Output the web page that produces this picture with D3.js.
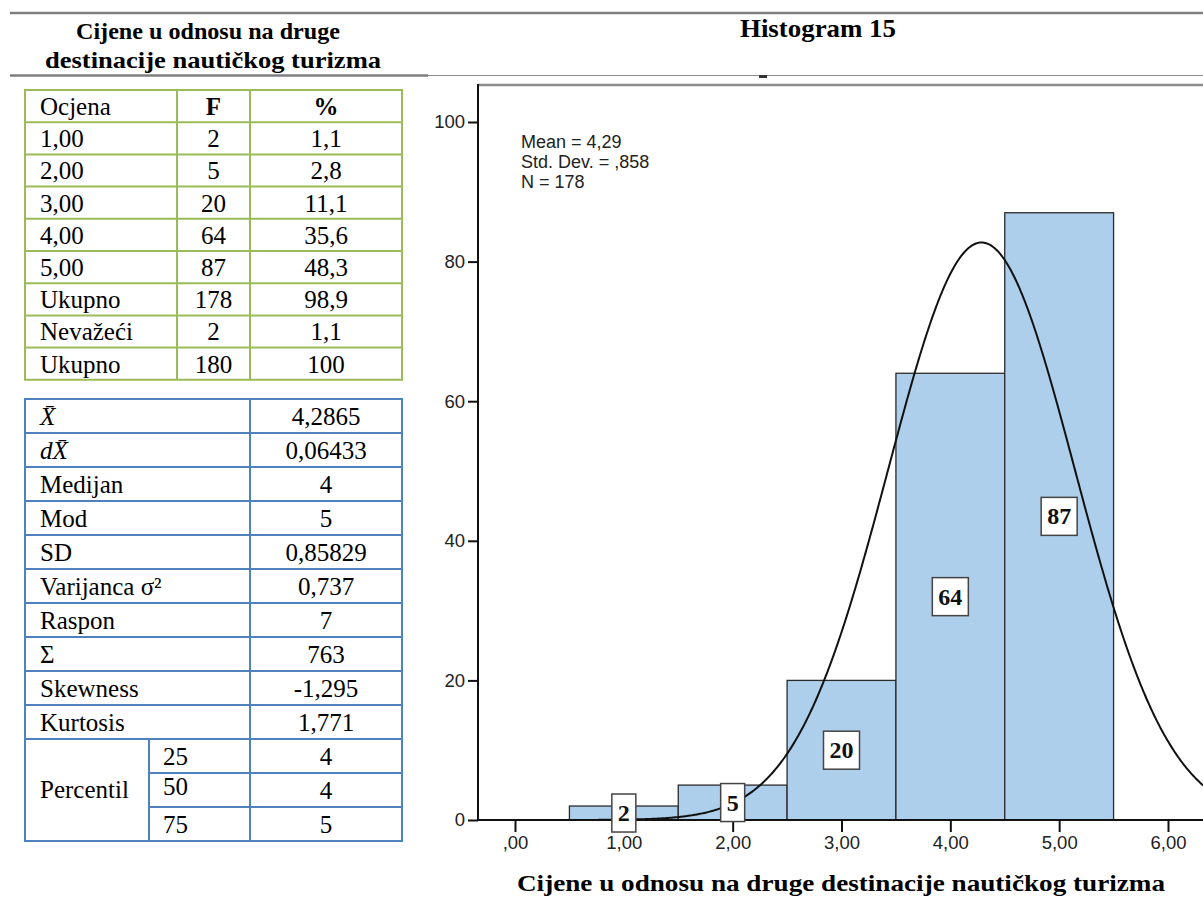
<!DOCTYPE html>
<html>
<head>
<meta charset="utf-8">
<script src="https://cdn.jsdelivr.net/npm/d3@7"></script>
<style>
  body { margin: 0; background: #fff; }
  svg { display: block; }
</style>
</head>
<body>
<script>
'use strict';

// frequency table
const freqHeader = ["Ocjena", "F", "%"];
const freqLabels = ["1,00", "2,00", "3,00", "4,00", "5,00", "Ukupno", "Nevažeći", "Ukupno"];
const freqCounts = ["2", "5", "20", "64", "87", "178", "2", "180"];
const freqPercents = ["1,1", "2,8", "11,1", "35,6", "48,3", "98,9", "1,1", "100"];

// descriptive statistics table
const statNames = ["X\u0304", "dX\u0304", "Medijan", "Mod", "SD", "Varijanca σ²", "Raspon", "Σ", "Skewness", "Kurtosis"];
const statValues = ["4,2865", "0,06433", "4", "5", "0,85829", "0,737", "7", "763", "-1,295", "1,771"];
const percentileKeys = ["25", "50", "75"];
const percentileValues = ["4", "4", "5"];

// histogram
const binCenters = [1, 2, 3, 4, 5];
const binCounts = [2, 5, 20, 64, 87];
const yTicks = [0, 20, 40, 60, 80, 100];
const xTicks = [0, 1, 2, 3, 4, 5, 6];
const xTickLabels = [",00", "1,00", "2,00", "3,00", "4,00", "5,00", "6,00"];
const fitMean = 4.2865;
const fitSD = 0.85829;
const fitN = 178;
const legendLines = ["Mean = 4,29", "Std. Dev. = ,858", "N = 178"];

(function() {

  const serif = '"Liberation Serif", "Times New Roman", serif';
  const sans = '"Liberation Sans", Arial, sans-serif';
  const tableFont = '25px';

  let svg = d3.select('body')
    .append('svg')
    .attr('width', 1203)
    .attr('height', 917);

  drawHeadings();
  drawFreqTable();
  drawStatTable();
  drawHistogram();

  // page lines and both headings
  function drawHeadings() {
    svg.append('line')
      .attr('x1', 10).attr('x2', 1203).attr('y1', 13).attr('y2', 13)
      .style('stroke', '#7f7f7f').style('stroke-width', 2.5);
    svg.append('line')
      .attr('x1', 10).attr('x2', 428).attr('y1', 75.5).attr('y2', 75.5)
      .style('stroke', '#7f7f7f').style('stroke-width', 2.5);
    svg.append('line')
      .attr('x1', 428).attr('x2', 1203).attr('y1', 75.5).attr('y2', 75.5)
      .style('stroke', '#8a8a8a').style('stroke-width', 1.2);
    // clipped remnant of the chart's own title
    svg.append('rect')
      .attr('x', 759).attr('y', 75).attr('width', 8).attr('height', 3)
      .style('fill', '#333');

    let left = svg.append('text')
      .attr('text-anchor', 'middle')
      .style('font-family', serif)
      .style('font-weight', 'bold')
      .style('font-size', '24px');
    left.append('tspan').attr('x', 208).attr('y', 39)
      .attr('textLength', 264).attr('lengthAdjust', 'spacingAndGlyphs')
      .text('Cijene u odnosu na druge');
    left.append('tspan').attr('x', 213).attr('y', 68)
      .attr('textLength', 336).attr('lengthAdjust', 'spacingAndGlyphs')
      .text('destinacije nautičkog turizma');

    svg.append('text')
      .attr('x', 818).attr('y', 37)
      .attr('text-anchor', 'middle')
      .attr('textLength', 156)
      .attr('lengthAdjust', 'spacingAndGlyphs')
      .style('font-family', serif)
      .style('font-weight', 'bold')
      .style('font-size', '25px')
      .text('Histogram 15');
  }

  // green bordered frequency table
  function drawFreqTable() {
    let cols = [25, 177, 250, 402];
    let top = 90, rowH = 32.2;
    let rows = [freqHeader].concat(freqLabels.map((d, i) => [d, freqCounts[i], freqPercents[i]]));
    let g = svg.append('g');

    rows.forEach((row, r) => {
      let y = top + r * rowH;
      row.forEach((cell, c) => {
        g.append('text')
          .attr('x', c === 0 ? 40 : (cols[c] + cols[c + 1]) / 2)
          .attr('y', y + 25)
          .attr('text-anchor', c === 0 ? 'start' : 'middle')
          .style('font-family', serif)
          .style('font-size', tableFont)
          .style('font-weight', r === 0 && c > 0 ? 'bold' : 'normal')
          .text(cell);
      });
    });

    let bottom = top + rows.length * rowH;
    d3.range(rows.length + 1).forEach((r) => {
      g.append('line')
        .attr('x1', cols[0] - 1).attr('x2', cols[3] + 1)
        .attr('y1', top + r * rowH).attr('y2', top + r * rowH)
        .style('stroke', '#9bbb59').style('stroke-width', 2);
    });
    cols.forEach((x) => {
      g.append('line')
        .attr('x1', x).attr('x2', x).attr('y1', top).attr('y2', bottom)
        .style('stroke', '#9bbb59').style('stroke-width', 2);
    });
  }

  // blue bordered statistics table
  function drawStatTable() {
    let cols = [25, 250, 402];
    let split = 149;
    let top = 399, rowH = 34;
    let g = svg.append('g');

    statNames.forEach((name, i) => {
      let y = top + i * rowH;
      let italic = i < 2;
      g.append('text')
        .attr('x', 40).attr('y', y + 26)
        .style('font-family', serif)
        .style('font-size', tableFont)
        .style('font-style', italic ? 'italic' : 'normal')
        .text(name);
      g.append('text')
        .attr('x', (cols[1] + cols[2]) / 2).attr('y', y + 26)
        .attr('text-anchor', 'middle')
        .style('font-family', serif)
        .style('font-size', tableFont)
        .text(statValues[i]);
    });

    let pTop = top + statNames.length * rowH;
    percentileKeys.forEach((k, i) => {
      let y = pTop + i * rowH;
      g.append('text')
        .attr('x', 163).attr('y', y + (i === 1 ? 22 : 26))
        .style('font-family', serif).style('font-size', tableFont)
        .text(k);
      g.append('text')
        .attr('x', (cols[1] + cols[2]) / 2).attr('y', y + 26)
        .attr('text-anchor', 'middle')
        .style('font-family', serif).style('font-size', tableFont)
        .text(percentileValues[i]);
    });
    g.append('text')
      .attr('x', 40).attr('y', pTop + 1.5 * rowH + 8)
      .style('font-family', serif).style('font-size', tableFont)
      .text('Percentil');

    let nRows = statNames.length + percentileKeys.length;
    let bottom = top + nRows * rowH;
    d3.range(nRows + 1).forEach((r) => {
      let y = top + r * rowH;
      let inPct = r > statNames.length && r < nRows;
      g.append('line')
        .attr('x1', inPct ? split : cols[0] - 1).attr('x2', cols[2] + 1)
        .attr('y1', y).attr('y2', y)
        .style('stroke', '#4f81bd').style('stroke-width', 2);
    });
    cols.forEach((x) => {
      g.append('line')
        .attr('x1', x).attr('x2', x).attr('y1', top).attr('y2', bottom)
        .style('stroke', '#4f81bd').style('stroke-width', 2);
    });
    g.append('line')
      .attr('x1', split).attr('x2', split).attr('y1', pTop).attr('y2', bottom)
      .style('stroke', '#4f81bd').style('stroke-width', 2);
  }

  // histogram with fitted normal curve
  function drawHistogram() {
    let plotLeft = 478, plotTop = 85, plotRight = 1203;

    let xScale = d3.scaleLinear().domain([0, 6]).range([515, 1168]);
    let yScale = d3.scaleLinear().domain([0, 100]).range([820, 122]);

    // frame top edge
    svg.append('line')
      .attr('x1', plotLeft).attr('x2', plotRight).attr('y1', plotTop).attr('y2', plotTop)
      .style('stroke', '#8c8c8c').style('stroke-width', 2.5);

    // bars
    svg.selectAll('.bar')
      .data(binCenters)
      .enter()
      .append('rect')
        .attr('class', 'bar')
        .attr('x', (d) => xScale(d - 0.5))
        .attr('width', (d) => xScale(d + 0.5) - xScale(d - 0.5))
        .attr('y', (d, i) => yScale(binCounts[i]))
        .attr('height', (d, i) => yScale(0) - yScale(binCounts[i]))
        .style('fill', '#aecfec')
        .style('stroke', '#2b2b2b')
        .style('stroke-width', 1.3);

    // normal curve scaled to counts (bin width 1)
    let xMin = xScale.invert(plotLeft), xMax = xScale.invert(plotRight);
    let curveX = d3.range(xMin, xMax + 0.01, 0.01);
    let density = (x) => fitN / (fitSD * Math.sqrt(2 * Math.PI)) *
      Math.exp(-0.5 * Math.pow((x - fitMean) / fitSD, 2));
    let line = d3.line()
      .x((d) => xScale(d))
      .y((d) => yScale(density(d)));
    svg.append('path')
      .datum(curveX)
      .attr('d', line)
      .style('fill', 'none')
      .style('stroke', '#111')
      .style('stroke-width', 2);

    // axes
    let yAxis = d3.axisLeft(yScale).tickValues(yTicks).tickSize(10).tickPadding(3);
    let yg = svg.append('g')
      .attr('transform', `translate(${plotLeft}, 0)`)
      .call(yAxis);
    yg.select('.domain').remove();
    yg.append('line')
      .attr('x1', 0).attr('x2', 0).attr('y1', plotTop - 1).attr('y2', yScale(0) + 1)
      .style('stroke', '#111').style('stroke-width', 2);

    let xAxis = d3.axisBottom(xScale).tickValues(xTicks)
      .tickFormat((d, i) => xTickLabels[i]).tickSize(12).tickPadding(4);
    let xg = svg.append('g')
      .attr('transform', `translate(0, ${yScale(0)})`)
      .call(xAxis);
    xg.select('.domain').remove();
    xg.append('line')
      .attr('x1', plotLeft).attr('x2', plotRight).attr('y1', 0).attr('y2', 0)
      .style('stroke', '#111').style('stroke-width', 2);

    [yg, xg].forEach((g) => {
      g.selectAll('.tick line').style('stroke', '#111').style('stroke-width', 2);
      g.selectAll('.tick text')
        .style('font-family', sans)
        .style('font-size', '18.5px')
        .style('fill', '#222');
    });

    // count labels in white boxes at half bar height
    let labels = svg.selectAll('.count')
      .data(binCenters)
      .enter()
      .append('g')
        .attr('class', 'count')
        .attr('transform', (d, i) => `translate(${xScale(d)}, ${yScale(binCounts[i] / 2)})`);
    labels.append('rect');
    labels.append('text')
      .attr('text-anchor', 'middle')
      .attr('y', 8)
      .style('font-family', serif)
      .style('font-weight', 'bold')
      .style('font-size', '24px')
      .style('fill', '#111')
      .text((d, i) => binCounts[i]);
    labels.each(function() {
      let g = d3.select(this);
      let w = g.select('text').node().getComputedTextLength() + 12;
      g.select('rect')
        .attr('x', -w / 2).attr('y', -19)
        .attr('width', w).attr('height', 38)
        .style('fill', '#fff')
        .style('stroke', '#444')
        .style('stroke-width', 1.5);
    });

    // legend
    let legend = svg.append('text')
      .style('font-family', sans)
      .style('font-size', '18px')
      .style('fill', '#222');
    legendLines.forEach((t, i) => {
      legend.append('tspan').attr('x', 521).attr('y', 148 + i * 20).text(t);
    });

    // axis title
    svg.append('text')
      .attr('x', 841).attr('y', 891)
      .attr('text-anchor', 'middle')
      .attr('textLength', 648)
      .attr('lengthAdjust', 'spacingAndGlyphs')
      .style('font-family', serif)
      .style('font-weight', 'bold')
      .style('font-size', '23px')
      .text('Cijene u odnosu na druge destinacije nautičkog turizma');
  }

})();
</script>
</body>
</html>
